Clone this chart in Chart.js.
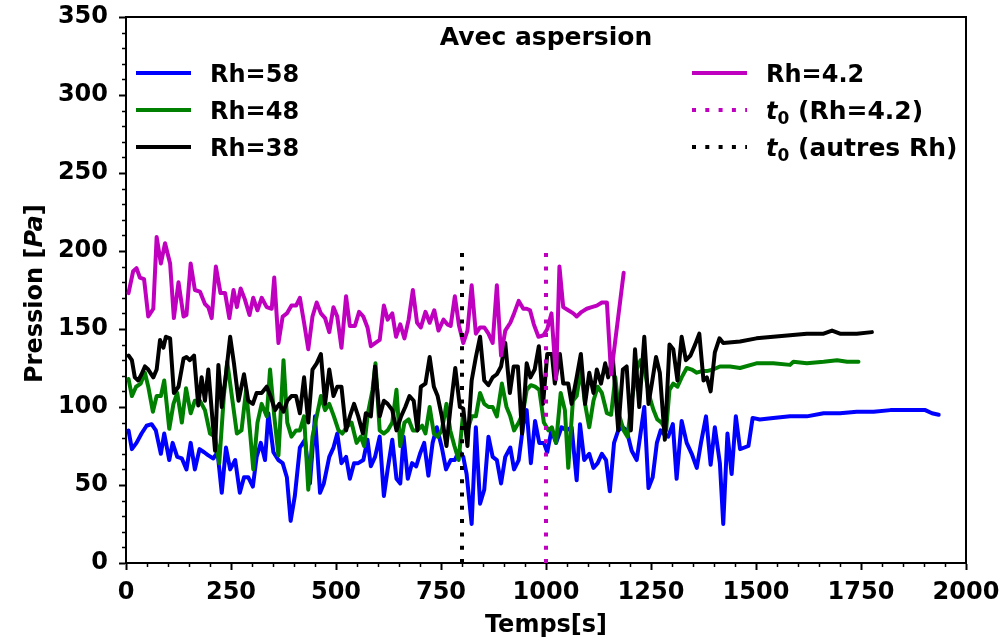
<!DOCTYPE html>
<html>
<head>
<meta charset="utf-8">
<script src="https://cdn.jsdelivr.net/npm/chart.js@4.4.1/dist/chart.umd.min.js"></script>
<style>
  html, body { margin: 0; padding: 0; background: #ffffff; }
  #wrap { width: 1002px; height: 641px; }
</style>
</head>
<body>
<div id="wrap"><canvas id="c" width="1002" height="641"></canvas></div>
<script>
// ---- Axis ticks ----
const xTickValues = [0, 250, 500, 750, 1000, 1250, 1500, 1750, 2000];
const yTickValues = [0, 50, 100, 150, 200, 250, 300, 350];

// ---- Rh = 58 (time in s, pressure in Pa) ----
const t58 = [6,14,25,37,49,61,71,83,91,103,111,122,133,144,154,164,175,186,196,208,218,228,238,248,260,271,281,291,302,311,321,331,339,351,363,373,383,392,402,414,426,438,450,462,471,484,494,503,513,524,533,543,553,565,575,583,593,604,614,623,634,644,653,661,671,681,691,700,710,720,730,740,752,762,773,783,793,803,811,823,833,843,853,863,873,883,893,903,915,924,935,946,954,964,974,984,995,1003,1013,1024,1037,1049,1061,1073,1081,1091,1103,1113,1123,1133,1143,1152,1162,1172,1183,1192,1204,1216,1224,1234,1244,1254,1264,1273,1283,1291,1302,1311,1323,1335,1347,1359,1369,1381,1392,1402,1414,1422,1432,1442,1452,1462,1482,1492,1509,1541,1581,1621,1661,1700,1740,1780,1820,1860,1903,1919,1935];
const p58 = [85,73,77,83,88,89,85,70,83,66,77,68,67,60,77,60,73,71,69,67,71,45,74,60,66,45,55,55,49,68,77,66,96,71,66,64,55,27,43,74,79,51,94,45,51,68,74,83,64,68,54,64,64,66,79,62,68,81,43,60,79,54,51,81,54,64,62,70,77,56,77,87,74,60,66,66,72,68,57,25,87,38,47,81,68,66,51,68,74,60,66,89,98,64,91,77,77,71,85,77,87,85,87,53,89,66,70,61,64,70,66,46,77,85,87,85,72,66,81,100,48,55,77,85,82,81,89,54,91,77,70,61,77,94,63,87,64,25,83,57,94,73,75,93,92,93,94,94,96,96,97,97,98,98,98,96,95];

// ---- Rh = 48 ----
const t48 = [6,14,24,35,45,53,64,73,83,91,103,113,122,133,143,154,164,176,188,200,212,222,233,241,252,264,275,286,295,303,313,323,335,343,353,363,375,384,394,405,414,424,434,444,454,464,474,484,495,506,515,525,537,549,559,567,576,587,594,604,614,623,634,644,653,663,673,683,693,705,713,723,733,742,752,763,772,782,792,802,811,823,833,843,853,863,873,883,895,906,915,924,935,945,954,964,974,984,995,1006,1014,1024,1035,1045,1053,1064,1073,1083,1093,1103,1113,1123,1133,1145,1155,1165,1175,1185,1194,1204,1216,1225,1236,1246,1256,1265,1275,1286,1294,1303,1313,1323,1335,1347,1359,1371,1383,1398,1414,1438,1462,1501,1541,1581,1589,1621,1661,1693,1717,1744];
const p48 = [118,107,113,115,122,113,97,107,107,117,86,102,109,90,112,96,104,104,98,83,81,64,107,129,107,83,85,111,85,60,90,102,94,124,94,69,130,90,81,85,85,94,47,81,94,107,98,102,94,85,83,87,90,77,81,75,96,111,128,85,83,85,90,111,75,90,92,85,85,88,83,100,83,81,85,102,85,75,66,94,83,94,94,109,102,100,100,94,115,100,94,85,90,96,111,114,113,111,90,85,87,77,109,98,61,104,107,124,102,87,104,113,109,96,95,119,94,85,81,104,124,130,122,107,98,92,90,85,111,115,113,119,125,124,122,123,123,124,126,126,125,128,128,127,129,128,129,130,129,129];

// ---- Rh = 38 ----
const t38 = [6,14,21,29,37,45,53,65,73,81,89,95,105,114,125,137,144,152,162,172,180,188,196,204,212,220,228,238,248,257,268,281,291,302,311,323,335,344,355,365,375,384,394,405,414,424,434,444,454,464,474,484,494,503,513,524,533,543,553,564,571,583,593,604,614,623,634,644,655,665,675,685,694,702,713,723,733,742,752,763,772,784,795,803,813,823,833,843,853,863,873,883,893,903,914,923,933,943,954,963,973,983,993,1003,1014,1021,1033,1041,1053,1061,1073,1083,1093,1103,1113,1121,1131,1141,1148,1159,1172,1183,1192,1202,1212,1222,1234,1244,1252,1262,1271,1283,1294,1303,1313,1323,1333,1344,1355,1365,1375,1383,1392,1402,1413,1422,1462,1501,1541,1581,1621,1661,1681,1700,1740,1776];
const p38 = [133,130,119,117,121,126,124,119,124,143,138,145,144,109,113,131,132,130,133,101,119,104,124,98,72,127,100,121,145,128,104,121,104,102,109,109,113,107,98,102,97,104,107,107,96,119,90,124,128,134,102,124,107,113,113,85,94,102,94,83,96,94,126,94,104,102,98,85,94,100,107,104,85,113,115,132,113,107,94,75,98,125,100,99,75,117,132,145,117,114,119,121,126,141,109,126,126,83,128,119,124,139,102,134,134,115,134,115,115,102,119,134,102,122,109,124,115,128,119,132,85,124,126,85,137,100,145,102,115,132,122,79,140,137,117,145,130,133,140,147,117,119,110,135,144,141,142,144,145,146,147,147,149,147,147,148];

// ---- Rh = 4.2 ----
const t42 = [6,17,25,33,43,53,65,73,83,93,105,114,125,137,144,154,164,176,188,196,204,214,225,236,246,256,264,273,283,294,303,313,323,335,347,353,363,373,383,394,405,414,424,434,444,454,464,474,484,494,503,513,524,533,545,555,565,575,583,593,604,614,623,634,643,653,663,673,683,693,702,713,723,734,744,756,765,773,783,793,803,813,823,833,843,853,863,873,883,893,903,915,924,935,946,954,962,971,982,994,1003,1013,1024,1032,1041,1053,1065,1073,1085,1097,1109,1121,1133,1145,1155,1185];
const p42 = [173,187,189,183,182,158,163,209,192,205,192,157,180,158,159,192,175,174,166,164,157,190,173,173,157,175,164,176,169,159,170,162,170,164,163,183,141,158,160,165,165,170,154,137,158,167,160,157,148,164,158,138,171,152,152,161,158,151,139,141,143,165,156,160,145,153,144,156,175,154,151,161,154,162,149,156,153,152,171,152,141,149,178,147,151,151,147,141,178,133,149,154,160,168,163,163,162,153,145,146,150,160,118,190,164,162,160,158,161,163,164,165,167,167,121,186];

// ---- Start times t0 (vertical markers) ----
const t0Rh42 = 1000;
const t0Others = 800;
const t0Top = 200;

const FONT = '"DejaVu Sans", "Liberation Sans", sans-serif';
const FS = 24;

const pts = (t, p) => t.map((x, i) => ({ x: x, y: p[i] }));
const BLUE = '#0000ff', GREEN = '#008000', BLACK = '#000000', MAG = '#bf00bf';
const DOT = [4, 9.3];

function series(label, t, p, color, order) {
  return {
    label: label, data: pts(t, p), borderColor: color, backgroundColor: color,
    borderWidth: 4, pointRadius: 0, tension: 0, fill: false,
    borderJoinStyle: 'round', borderCapStyle: 'round', order: order
  };
}
function marker(label, x, color, order) {
  return {
    label: label, data: [{ x: x, y: 0 }, { x: x, y: t0Top }], borderColor: color,
    borderWidth: 4, pointRadius: 0, borderDash: DOT, borderCapStyle: 'butt',
    fill: false, order: order
  };
}

const legendLeft = [
  { label: 'Rh=58', color: BLUE },
  { label: 'Rh=48', color: GREEN },
  { label: 'Rh=38', color: BLACK }
];
const legendRight = [
  { label: 'Rh=4.2', color: MAG },
  { label: '(Rh=4.2)', color: MAG, dash: true, t0: true },
  { label: '(autres Rh)', color: BLACK, dash: true, t0: true }
];

function drawEntry(ctx, x, y, e) {
  ctx.save();
  ctx.strokeStyle = e.color;
  ctx.lineWidth = 4;
  ctx.lineCap = 'butt';
  if (e.dash) ctx.setLineDash(DOT);
  ctx.beginPath();
  ctx.moveTo(x, y);
  ctx.lineTo(x + 55, y);
  ctx.stroke();
  ctx.setLineDash([]);
  ctx.fillStyle = '#000';
  ctx.textBaseline = 'alphabetic';
  ctx.textAlign = 'left';
  let tx = x + 74;
  const base = y + 9;
  if (e.t0) {
    ctx.font = 'italic bold ' + FS + 'px ' + FONT;
    ctx.fillText('t', tx, base);
    tx += ctx.measureText('t').width;
    ctx.font = 'bold 17px ' + FONT;
    ctx.fillText('0', tx, base + 5);
    tx += ctx.measureText('0').width;
    ctx.font = 'bold 25px ' + FONT;
    ctx.fillText(' ' + e.label, tx, base);
  } else {
    ctx.font = 'bold ' + FS + 'px ' + FONT;
    ctx.fillText(e.label, tx, base);
  }
  ctx.restore();
}

const decor = {
  id: 'decor',
  afterDatasetsDraw(chart) {
    const ctx = chart.ctx, a = chart.chartArea;
    const xs = chart.scales.x, ys = chart.scales.y;
    ctx.save();
    // frame top / right
    ctx.strokeStyle = '#000';
    ctx.lineWidth = 2;
    ctx.beginPath();
    ctx.moveTo(a.left, a.top);
    ctx.lineTo(a.right, a.top);
    ctx.lineTo(a.right, a.bottom);
    ctx.stroke();
    // minor ticks
    ctx.lineWidth = 1.5;
    ctx.beginPath();
    for (let v = 50; v < 2000; v += 50) {
      if (v % 250 === 0) continue;
      const px = Math.round(xs.getPixelForValue(v)) + 0.5;
      ctx.moveTo(px, a.bottom);
      ctx.lineTo(px, a.bottom + 4);
    }
    for (let v = 10; v < 350; v += 10) {
      if (v % 50 === 0) continue;
      const py = Math.round(ys.getPixelForValue(v)) + 0.5;
      ctx.moveTo(a.left - 4, py);
      ctx.lineTo(a.left, py);
    }
    ctx.stroke();

    // title inside the plot
    const cx = (a.left + a.right) / 2;
    ctx.fillStyle = '#000';
    ctx.font = 'bold 25px ' + FONT;
    ctx.textAlign = 'center';
    ctx.textBaseline = 'alphabetic';
    ctx.fillText('Avec aspersion', cx, 45);

    // legend
    legendLeft.forEach((e, i) => drawEntry(ctx, 136, 73 + i * 37, e));
    legendRight.forEach((e, i) => drawEntry(ctx, 692, 73 + i * 37, e));

    // x axis title
    ctx.textAlign = 'center';
    ctx.font = 'bold ' + FS + 'px ' + FONT;
    ctx.fillText('Temps[s]', cx, 632);

    // y axis title: Pression [Pa] with italic unit
    ctx.translate(42, 383);
    ctx.rotate(-Math.PI / 2);
    ctx.textAlign = 'left';
    const parts = [['Pression [', 'bold '], ['Pa', 'italic bold '], [']', 'bold ']];
    let off = 0;
    parts.forEach(([s, st]) => {
      ctx.font = st + FS + 'px ' + FONT;
      ctx.fillText(s, off, 0);
      off += ctx.measureText(s).width;
    });
    ctx.restore();
  }
};

const tickFont = { family: FONT, size: FS, weight: 'bold' };
const noPad = s => { s.paddingTop = 0; s.paddingBottom = 0; s.paddingLeft = 0; s.paddingRight = 0; };

new Chart(document.getElementById('c'), {
  type: 'line',
  data: {
    datasets: [
      series('Rh=58', t58, p58, BLUE, 6),
      series('Rh=48', t48, p48, GREEN, 5),
      series('Rh=38', t38, p38, BLACK, 4),
      series('Rh=4.2', t42, p42, MAG, 3),
      marker('t0 (Rh=4.2)', t0Rh42, MAG, 2),
      marker('t0 (autres Rh)', t0Others, BLACK, 1)
    ]
  },
  options: {
    responsive: false,
    animation: false,
    layout: { padding: { left: 0, top: 17, right: 36, bottom: 0 } },
    plugins: { legend: { display: false }, tooltip: { enabled: false }, title: { display: false } },
    scales: {
      x: {
        type: 'linear', min: 0, max: 2000,
        afterBuildTicks: s => { s.ticks = xTickValues.map(v => ({ value: v })); },
        afterFit: s => { s.height = 78; noPad(s); },
        ticks: { font: tickFont, color: '#000', padding: 8, maxRotation: 0, autoSkip: false,
                 callback: v => String(v) },
        grid: { drawOnChartArea: false, drawTicks: true, tickLength: 7, tickWidth: 2, tickColor: '#000' },
        border: { display: true, width: 2, color: '#000' }
      },
      y: {
        type: 'linear', min: 0, max: 350,
        afterBuildTicks: s => { s.ticks = yTickValues.map(v => ({ value: v })); },
        afterFit: s => { s.width = 126; noPad(s); },
        ticks: { font: tickFont, color: '#000', padding: 11, autoSkip: false,
                 callback: v => String(v) },
        grid: { drawOnChartArea: false, drawTicks: true, tickLength: 7, tickWidth: 2, tickColor: '#000' },
        border: { display: true, width: 2, color: '#000' }
      }
    }
  },
  plugins: [decor]
});
</script>
</body>
</html>
